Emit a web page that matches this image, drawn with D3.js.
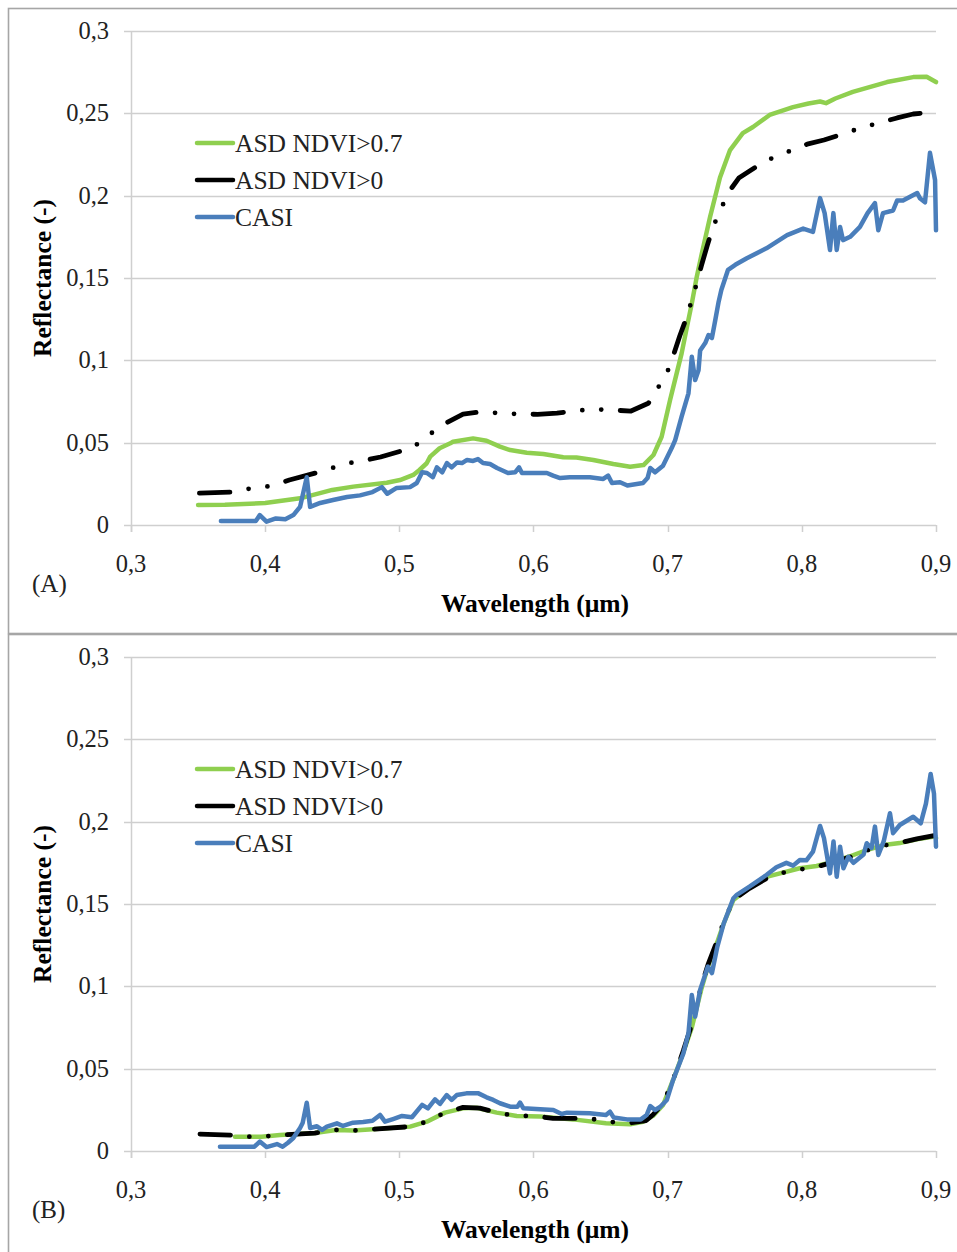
<!DOCTYPE html>
<html>
<head>
<meta charset="utf-8">
<script src="https://cdn.jsdelivr.net/npm/d3@7"></script>
<style>
  html, body { margin: 0; padding: 0; background: #fff; }
  svg { display: block; font-family: "Liberation Serif", "Times New Roman", serif; }
</style>
</head>
<body>
<svg id="chart" width="957" height="1252"></svg>
<script>
// Wavelength axis (µm) and reflectance axis ticks
const xTicks = [0.3, 0.4, 0.5, 0.6, 0.7, 0.8, 0.9];
const yTicks = [0, 0.05, 0.1, 0.15, 0.2, 0.25, 0.3];
const seriesNames = ["ASD NDVI>0.7", "ASD NDVI>0", "CASI"];
const panelLabels = ["(A)", "(B)"];

// Panel A: [wavelength, reflectance]
const asdHighA = [
  [0.35,0.0121],[0.37,0.0123],[0.40,0.0133],[0.426,0.0162],[0.45,0.0213],[0.4657,0.0233],
  [0.4906,0.0257],[0.5005,0.0273],[0.5104,0.0304],[0.515,0.0334],[0.5204,0.0375],[0.523,0.0415],
  [0.530,0.0466],[0.538,0.0496],[0.540,0.0506],[0.555,0.0526],[0.565,0.0512],[0.575,0.0476],
  [0.5826,0.0455],[0.595,0.0439],[0.6073,0.0431],[0.6222,0.0411],[0.632,0.041],[0.6446,0.0395],
  [0.6595,0.037],[0.672,0.0354],[0.682,0.0364],[0.6894,0.0425],[0.6955,0.0536],[0.7018,0.0759],
  [0.7067,0.0921],[0.7104,0.1042],[0.7143,0.120],[0.718,0.1346],[0.7217,0.1508],[0.7255,0.165],
  [0.7316,0.187],[0.739,0.211],[0.7465,0.2277],[0.756,0.238],[0.7636,0.2417],[0.776,0.249],
  [0.7934,0.2538],[0.805,0.256],[0.8136,0.2572],[0.818,0.2562],[0.825,0.2590],[0.838,0.263],
  [0.8635,0.269],[0.883,0.272],[0.893,0.2722],[0.9,0.2690]
];
const asdAllA = [
  [0.351,0.0194],[0.376,0.0200],[0.391,0.0225],[0.405,0.0237],[0.418,0.0273],[0.446,0.0334],
  [0.458,0.0370],[0.472,0.0389],[0.486,0.0413],[0.51,0.0470],[0.523,0.0553],[0.535,0.0620],
  [0.5475,0.0674],[0.56,0.0686],[0.575,0.0680],[0.588,0.0674],[0.603,0.0672],[0.6175,0.0680],
  [0.644,0.0704],[0.658,0.0698],[0.6727,0.0692],[0.6856,0.0739],[0.6918,0.0820],[0.6994,0.0921],
  [0.7043,0.1032],[0.709,0.1148],[0.7143,0.1265],[0.7217,0.1468],[0.7255,0.1585],[0.7296,0.1700],
  [0.7338,0.1810],[0.745,0.2016],[0.753,0.2107],[0.7658,0.2174],[0.778,0.2229],[0.804,0.2313],
  [0.8165,0.2338],[0.8307,0.2374],[0.8433,0.2410],[0.871,0.2472],[0.883,0.2496],[0.898,0.2508]
];
const casiA = [
  [0.367,0.0024],[0.393,0.0024],[0.396,0.0060],[0.401,0.0020],[0.408,0.0040],[0.415,0.0035],
  [0.421,0.0060],[0.426,0.0110],[0.431,0.0290],[0.4335,0.0110],[0.441,0.0134],[0.4506,0.0152],
  [0.461,0.0170],[0.4707,0.0180],[0.480,0.0200],[0.487,0.0230],[0.491,0.0190],[0.498,0.0225],
  [0.508,0.0230],[0.513,0.0255],[0.517,0.0320],[0.5206,0.0316],[0.525,0.0290],[0.528,0.0350],
  [0.532,0.0320],[0.5355,0.0376],[0.539,0.0350],[0.543,0.0380],[0.5467,0.0376],[0.5505,0.0395],
  [0.555,0.0389],[0.5586,0.0400],[0.5624,0.0376],[0.5676,0.0370],[0.5728,0.0346],[0.581,0.0316],
  [0.5863,0.0320],[0.5892,0.0350],[0.5914,0.0316],[0.5996,0.0316],[0.610,0.0316],[0.6146,0.0300],
  [0.6198,0.0285],[0.627,0.0290],[0.642,0.0290],[0.652,0.0280],[0.6556,0.0300],[0.6585,0.0255],
  [0.6645,0.0260],[0.670,0.0240],[0.6816,0.0255],[0.685,0.0285],[0.687,0.0346],[0.6906,0.0320],
  [0.6965,0.0360],[0.703,0.0467],[0.7056,0.0516],[0.7104,0.0658],[0.7155,0.0800],[0.718,0.1022],
  [0.7205,0.0880],[0.723,0.0940],[0.7242,0.1060],[0.728,0.1105],[0.7305,0.1154],[0.733,0.1136],
  [0.7355,0.1245],[0.738,0.1356],[0.740,0.1427],[0.745,0.1550],[0.7504,0.1580],[0.759,0.1620],
  [0.7736,0.1680],[0.789,0.1760],[0.801,0.1800],[0.8083,0.1780],[0.8136,0.1985],[0.817,0.1894],
  [0.821,0.1670],[0.8235,0.1894],[0.826,0.1670],[0.8285,0.1810],[0.8307,0.1730],[0.836,0.1750],
  [0.8433,0.1810],[0.849,0.1894],[0.8545,0.1955],[0.857,0.1790],[0.8605,0.1894],[0.868,0.1910],
  [0.871,0.1970],[0.8754,0.1970],[0.886,0.2016],[0.888,0.1985],[0.8918,0.1960],[0.8955,0.2260],
  [0.8993,0.2095],[0.9,0.1790]
];

// Panel B: [wavelength, reflectance]
const asdHighB = [
  [0.3775,0.0087],[0.3973,0.0087],[0.411,0.0097],[0.437,0.0109],[0.4528,0.0128],[0.466,0.0124],
  [0.480,0.0132],[0.508,0.0148],[0.5205,0.0178],[0.534,0.0233],[0.5475,0.0259],[0.5576,0.0263],
  [0.5725,0.0233],[0.5875,0.0213],[0.605,0.0209],[0.6295,0.0192],[0.654,0.0168],[0.672,0.0162],
  [0.6816,0.0178],[0.689,0.0213],[0.6966,0.0280],[0.704,0.0430],[0.7117,0.0600],[0.718,0.0750],
  [0.725,0.0980],[0.730,0.1120],[0.737,0.1270],[0.7417,0.1380],[0.749,0.1525],[0.761,0.1600],
  [0.7736,0.1665],[0.7985,0.1717],[0.811,0.1731],[0.8236,0.1757],[0.836,0.1790],[0.8484,0.1828],
  [0.861,0.1858],[0.873,0.1870],[0.8857,0.1893],[0.8985,0.1910],[0.9,0.1900]
];
const asdAllB = [
  [0.3514,0.0103],[0.3738,0.0097],[0.3832,0.0087],[0.3973,0.0087],[0.411,0.0097],[0.437,0.0109],
  [0.4528,0.0128],[0.466,0.0124],[0.480,0.0132],[0.508,0.0148],[0.5205,0.0178],[0.534,0.0233],
  [0.5475,0.0265],[0.560,0.0260],[0.573,0.0233],[0.586,0.0213],[0.601,0.0213],[0.6146,0.0198],
  [0.642,0.0198],[0.654,0.0178],[0.672,0.0170],[0.684,0.0185],[0.689,0.0220],[0.6966,0.0290],
  [0.704,0.0430],[0.7117,0.0610],[0.718,0.0770],[0.725,0.1000],[0.730,0.1130],[0.737,0.1280],
  [0.7417,0.1390],[0.749,0.1525],[0.761,0.1595],[0.7736,0.1655],[0.786,0.1690],[0.7985,0.1710],
  [0.811,0.1725],[0.8236,0.1755],[0.836,0.1785],[0.8484,0.1825],[0.861,0.1855],[0.873,0.1872],
  [0.8857,0.1895],[0.8985,0.1915],[0.9,0.1915]
];
const casiB = [
  [0.3663,0.0026],[0.392,0.0026],[0.396,0.0057],[0.401,0.0024],[0.4088,0.0042],[0.413,0.0026],
  [0.417,0.0050],[0.421,0.0079],[0.426,0.0140],[0.428,0.0172],[0.431,0.0293],[0.4335,0.0140],
  [0.4386,0.0150],[0.4424,0.0128],[0.446,0.0148],[0.4535,0.0168],[0.458,0.0152],[0.4655,0.0172],
  [0.473,0.0176],[0.480,0.0184],[0.4856,0.0219],[0.4893,0.0178],[0.4953,0.0194],[0.502,0.0213],
  [0.5094,0.0205],[0.517,0.0280],[0.5213,0.0259],[0.5266,0.0314],[0.5303,0.0286],[0.5353,0.0340],
  [0.539,0.0310],[0.5428,0.0340],[0.550,0.0350],[0.559,0.0350],[0.565,0.0326],[0.570,0.0310],
  [0.575,0.0290],[0.5826,0.0269],[0.588,0.0269],[0.590,0.0294],[0.5925,0.0259],[0.605,0.0253],
  [0.6148,0.0249],[0.621,0.0225],[0.625,0.0233],[0.642,0.0229],[0.654,0.0219],[0.657,0.0239],
  [0.6597,0.0204],[0.6697,0.0192],[0.680,0.0192],[0.6844,0.0219],[0.687,0.0273],[0.6906,0.0249],
  [0.6943,0.0267],[0.6994,0.0310],[0.704,0.0430],[0.7117,0.0593],[0.7155,0.0715],[0.718,0.0947],
  [0.7205,0.0816],[0.7242,0.0978],[0.7266,0.1038],[0.730,0.1120],[0.733,0.1080],[0.737,0.1240],
  [0.7417,0.1380],[0.749,0.1535],[0.7515,0.1555],[0.761,0.1605],[0.7736,0.1676],[0.781,0.1723],
  [0.7885,0.1750],[0.7935,0.1733],[0.7985,0.1767],[0.8034,0.1765],[0.8083,0.1818],[0.8136,0.1974],
  [0.8165,0.1900],[0.821,0.1686],[0.8236,0.1880],[0.826,0.1666],[0.8285,0.1848],[0.831,0.1717],
  [0.8347,0.1787],[0.8385,0.1750],[0.846,0.1800],[0.8484,0.1869],[0.852,0.1840],[0.8545,0.1970],
  [0.857,0.1798],[0.861,0.1880],[0.8657,0.2051],[0.868,0.1930],[0.873,0.1980],[0.883,0.2030],
  [0.8886,0.1990],[0.8925,0.2110],[0.896,0.2290],[0.8985,0.2170],[0.9,0.1848]
];

const colors = ["#8fcf4f", "#000000", "#4a7ebb"];
const svg = d3.select("#chart");
svg.append("rect").attr("width", 957).attr("height", 1252).attr("fill", "#fff");

const fmt = d => String(d).replace(".", ",");

function drawPanel(top, label, series) {
  const box = { x: 8.5, y: top - 22.5, w: 960, h: 625 };
  const plot = { left: 131, right: 936, top: top, bottom: top + 494 };

  svg.append("rect")
    .attr("x", box.x).attr("y", box.y).attr("width", box.w).attr("height", box.h)
    .attr("fill", "none").attr("stroke", "#a6a6a6").attr("stroke-width", 1.6);

  const x = d3.scaleLinear().domain([0.3, 0.9]).range([plot.left, plot.right]);
  const y = d3.scaleLinear().domain([0, 0.3]).range([plot.bottom, plot.top]);

  const g = svg.append("g");

  // horizontal gridlines
  g.append("g").selectAll("line").data(yTicks).join("line")
    .attr("x1", plot.left - 7).attr("x2", plot.right)
    .attr("y1", d => Math.round(y(d)) + 0.5).attr("y2", d => Math.round(y(d)) + 0.5)
    .attr("stroke", "#cfcfcf").attr("stroke-width", 1.5);

  // vertical axis line
  g.append("line")
    .attr("x1", plot.left + 0.5).attr("x2", plot.left + 0.5)
    .attr("y1", plot.top).attr("y2", plot.bottom + 7)
    .attr("stroke", "#cfcfcf").attr("stroke-width", 1.5);

  // x ticks
  g.append("g").selectAll("line").data(xTicks).join("line")
    .attr("x1", d => Math.round(x(d)) + 0.5).attr("x2", d => Math.round(x(d)) + 0.5)
    .attr("y1", plot.bottom).attr("y2", plot.bottom + 7)
    .attr("stroke", "#cfcfcf").attr("stroke-width", 1.5);

  // y tick labels
  g.append("g").selectAll("text").data(yTicks).join("text")
    .attr("x", 109).attr("y", d => y(d) + 8)
    .attr("text-anchor", "end").attr("font-size", 24.5).attr("fill", "#222")
    .text(fmt);

  // x tick labels
  g.append("g").selectAll("text").data(xTicks).join("text")
    .attr("x", d => x(d)).attr("y", plot.bottom + 47)
    .attr("text-anchor", "middle").attr("font-size", 24.5).attr("fill", "#222")
    .text(fmt);

  // axis titles
  g.append("text")
    .attr("x", 535).attr("y", plot.bottom + 87)
    .attr("text-anchor", "middle").attr("font-size", 25.5).attr("font-weight", "bold")
    .text("Wavelength (µm)");
  g.append("text")
    .attr("transform", `translate(51, ${(plot.top + plot.bottom) / 2}) rotate(-90)`)
    .attr("text-anchor", "middle").attr("font-size", 25.5).attr("font-weight", "bold")
    .text("Reflectance (-)");

  // panel label
  g.append("text")
    .attr("x", 32).attr("y", plot.bottom + 67)
    .attr("font-size", 25).attr("fill", "#222")
    .text(label);

  // curves
  const line = d3.line().x(d => x(d[0])).y(d => y(d[1])).curve(d3.curveLinear);
  const styles = [
    { width: 4.5, dash: null },
    { width: 4.8, dash: "30.5 19 0 19 0 19" },
    { width: 4.5, dash: null }
  ];
  series.forEach((s, i) => {
    g.append("path")
      .datum(s)
      .attr("d", line)
      .attr("fill", "none")
      .attr("stroke", colors[i])
      .attr("stroke-width", styles[i].width)
      .attr("stroke-linejoin", "round")
      .attr("stroke-linecap", "round")
      .attr("stroke-dasharray", styles[i].dash);
  });

  // legend
  const legend = g.append("g");
  seriesNames.forEach((name, i) => {
    const ly = plot.top + 112 + i * 37;
    legend.append("line")
      .attr("x1", 197).attr("x2", 233).attr("y1", ly).attr("y2", ly)
      .attr("stroke", colors[i]).attr("stroke-width", 4.5).attr("stroke-linecap", "round");
    legend.append("text")
      .attr("x", 235).attr("y", ly + 9)
      .attr("font-size", 25.5).attr("fill", "#222")
      .text(name);
  });
}

drawPanel(31, panelLabels[0], [asdHighA, asdAllA, casiA]);
drawPanel(657, panelLabels[1], [asdHighB, asdAllB, casiB]);
</script>
</body>
</html>
